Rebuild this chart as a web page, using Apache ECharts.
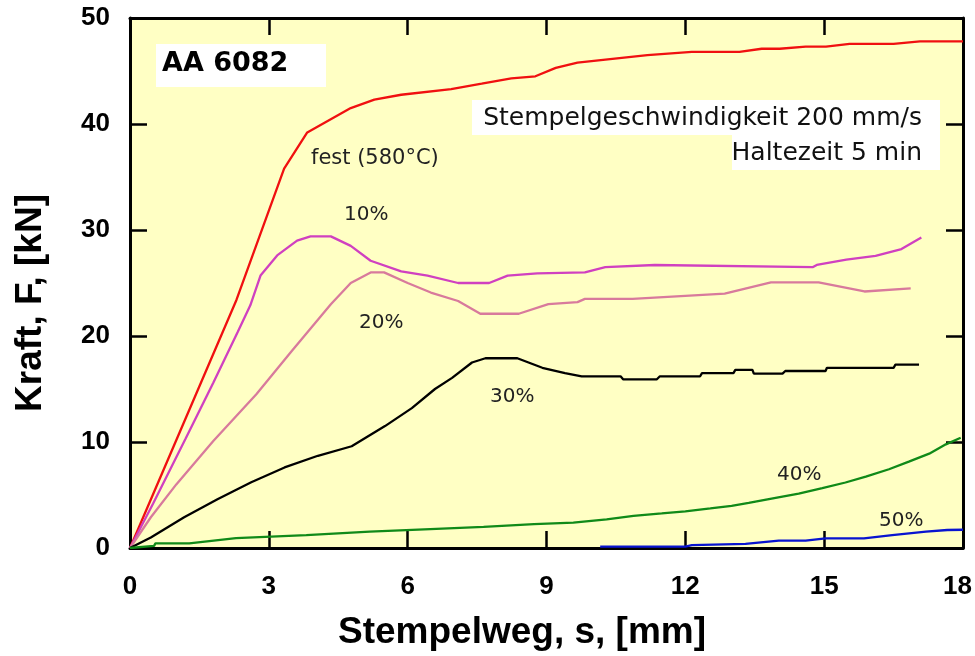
<!DOCTYPE html>
<html>
<head>
<meta charset="utf-8">
<script src="https://cdn.jsdelivr.net/npm/echarts@6/dist/echarts.min.js"></script>
<style>
  html, body { margin: 0; padding: 0; background: #fff; }
  #main { width: 975px; height: 656px; }
</style>
</head>
<body>
<div id="main"></div>
<script>
// Stempelweg s [mm], Kraft F [kN]
var festData = [[0,0],[2.3,23.4],[3.33,35.8],[3.83,39.2],[4.77,41.5],[5.28,42.3],[5.86,42.76],[6.94,43.3],[7.6,43.8],[8.24,44.3],[8.76,44.5],[9.2,45.3],[9.67,45.8],[11.18,46.5],[12.14,46.8],[13.17,46.8],[13.65,47.1],[14.04,47.1],[14.6,47.3],[15.04,47.3],[15.55,47.55],[16.5,47.55],[17.07,47.8],[18,47.8]];
var p10Data = [[0,0],[0.5,4.2],[1.2,10.3],[1.8,15.6],[2.33,20.4],[2.6,22.9],[2.82,25.7],[3.18,27.6],[3.61,29.0],[3.9,29.4],[4.34,29.4],[4.77,28.5],[5.2,27.1],[5.86,26.1],[6.43,25.7],[7.09,25.0],[7.76,25.0],[8.16,25.7],[8.8,25.9],[9.83,26.0],[10.27,26.5],[11.34,26.7],[14.76,26.5],[14.84,26.7],[15.48,27.2],[16.11,27.55],[16.67,28.2],[17.1,29.3]];
var p20Data = [[0,0],[0.45,2.9],[1.0,6.0],[1.8,10.1],[2.73,14.5],[3.5,18.6],[4.34,23.0],[4.77,25.0],[5.2,26.0],[5.49,26.0],[6.0,25.0],[6.5,24.1],[7.09,23.3],[7.57,22.1],[8.4,22.1],[9.04,23.0],[9.67,23.2],[9.83,23.5],[10.86,23.5],[12.85,24.0],[13.85,25.05],[14.88,25.05],[15.87,24.2],[16.87,24.5]];
var p30Data = [[0,0],[0.45,1.0],[1.17,2.9],[1.89,4.6],[2.62,6.2],[3.34,7.6],[4.06,8.7],[4.79,9.6],[5.51,11.5],[6.09,13.2],[6.59,15.0],[6.96,16.05],[7.39,17.5],[7.68,17.9],[8.37,17.9],[8.91,17.0],[9.4,16.5],[9.76,16.2],[10.6,16.2],[10.66,15.9],[11.38,15.9],[11.45,16.2],[12.32,16.2],[12.36,16.5],[13.04,16.5],[13.08,16.8],[13.45,16.8],[13.48,16.45],[14.1,16.45],[14.16,16.7],[15.03,16.7],[15.06,17.0],[16.5,17.0],[16.54,17.3],[17.05,17.3]];
var p40Data = [[0,0],[0.52,0.2],[0.55,0.44],[1.28,0.44],[2.29,0.94],[3.81,1.22],[5.18,1.54],[6.49,1.79],[7.64,2.0],[8.73,2.26],[9.58,2.4],[10.3,2.7],[10.88,3.04],[11.49,3.26],[12.0,3.45],[12.54,3.73],[13.0,3.98],[13.37,4.26],[13.66,4.5],[13.98,4.76],[14.45,5.14],[14.96,5.64],[15.46,6.18],[15.9,6.74],[16.4,7.43],[16.83,8.15],[17.27,8.9],[17.63,9.78],[17.95,10.4]];
var p50Data = [[10.16,0.13],[12.0,0.13],[12.14,0.28],[13.3,0.38],[14.02,0.69],[14.6,0.69],[15.03,0.9],[15.86,0.9],[16.47,1.22],[17.2,1.54],[17.66,1.7],[18,1.72]];

var seriesNames = ['fest (580°C)', '10%', '20%', '30%', '40%', '50%'];
var seriesColors = ['#f01010', '#d040c0', '#d87a9c', '#000000', '#108a18', '#0814d0'];

var myChart = echarts.init(document.getElementById('main'), null, { renderer: 'canvas' });

function mkLine(i, d) {
  return {
    name: seriesNames[i],
    type: 'line',
    data: d,
    showSymbol: false,
    lineStyle: { color: seriesColors[i], width: 2.3 },
    itemStyle: { color: seriesColors[i] },
    animation: false,
    z: 3
  };
}

var tickFont = { fontFamily: 'Liberation Sans', fontWeight: 'bold', fontSize: 26, color: '#000' };
var boxAxis = {
  axisLine: { show: true, onZero: false, lineStyle: { color: '#000', width: 3 } },
  axisTick: { show: true, inside: true, length: 17, lineStyle: { color: '#000', width: 2.5 } },
  splitLine: { show: false }
};
var nameFont = 'bold 37px "Liberation Sans"';
var curveFont = '20px "DejaVu Sans"';

var option = {
  backgroundColor: '#ffffff',
  grid: {
    left: 130, right: 12, top: 18, bottom: 108,
    containLabel: false, outerBoundsMode: 'none',
    show: true, backgroundColor: '#ffffc4', borderWidth: 0
  },
  xAxis: [
    Object.assign({
      type: 'value', min: 0, max: 18, interval: 3, position: 'bottom',
      axisLabel: Object.assign({
        margin: 26,
        formatter: function (v) { return v === 18 ? '{r|18}' : String(v); },
        rich: { r: { fontFamily: 'Liberation Sans', fontWeight: 'bold', fontSize: 26, color: '#000', padding: [0, 11, 0, 0] } }
      }, tickFont)
    }, boxAxis),
    Object.assign({
      type: 'value', min: 0, max: 18, interval: 3, position: 'top',
      axisLabel: { show: false }
    }, boxAxis)
  ],
  yAxis: [
    Object.assign({
      type: 'value', min: 0, max: 50, interval: 10, position: 'left',
      axisLabel: Object.assign({ margin: 20 }, tickFont)
    }, boxAxis),
    Object.assign({
      type: 'value', min: 0, max: 50, interval: 10, position: 'right',
      axisLabel: { show: false }
    }, boxAxis)
  ],
  series: [
    mkLine(0, festData), mkLine(1, p10Data), mkLine(2, p20Data),
    mkLine(3, p30Data), mkLine(4, p40Data), mkLine(5, p50Data)
  ],
  graphic: [
    { type: 'text', x: 522, y: 633, z: 11,
      style: { text: 'Stempelweg, s, [mm]', font: nameFont, fill: '#000', align: 'center', verticalAlign: 'middle' } },
    { type: 'text', x: 31, y: 303, rotation: Math.PI / 2, z: 11,
      style: { text: 'Kraft, F, [kN]', font: nameFont, fill: '#000', align: 'center', verticalAlign: 'middle' } },
    { type: 'rect', left: 156, top: 44, shape: { width: 170, height: 43 }, style: { fill: '#fff' }, z: 10 },
    { type: 'text', left: 162, top: 50, z: 11,
      style: { text: 'AA 6082', font: 'bold 27px "DejaVu Sans"', fill: '#000' } },
    { type: 'rect', left: 472, top: 100, shape: { width: 468, height: 35 }, style: { fill: '#fff' }, z: 10 },
    { type: 'rect', left: 732, top: 135, shape: { width: 208, height: 35 }, style: { fill: '#fff' }, z: 10 },
    { type: 'text', x: 922, y: 118, z: 11,
      style: { text: 'Stempelgeschwindigkeit 200 mm/s', font: '25px "DejaVu Sans"', fill: '#111', align: 'right', verticalAlign: 'middle' } },
    { type: 'text', x: 922, y: 153, z: 11,
      style: { text: 'Haltezeit 5 min', font: '25px "DejaVu Sans"', fill: '#111', align: 'right', verticalAlign: 'middle' } },
    { type: 'text', left: 311, top: 148, z: 11, style: { text: seriesNames[0], font: '21px "DejaVu Sans"', fill: '#222' } },
    { type: 'text', left: 344, top: 205, z: 11, style: { text: seriesNames[1], font: curveFont, fill: '#222' } },
    { type: 'text', left: 359, top: 313, z: 11, style: { text: seriesNames[2], font: curveFont, fill: '#222' } },
    { type: 'text', left: 490, top: 387, z: 11, style: { text: seriesNames[3], font: curveFont, fill: '#222' } },
    { type: 'text', left: 777, top: 465, z: 11, style: { text: seriesNames[4], font: curveFont, fill: '#222' } },
    { type: 'text', left: 879, top: 511, z: 11, style: { text: seriesNames[5], font: curveFont, fill: '#222' } }
  ]
};

myChart.setOption(option);
</script>
</body>
</html>
